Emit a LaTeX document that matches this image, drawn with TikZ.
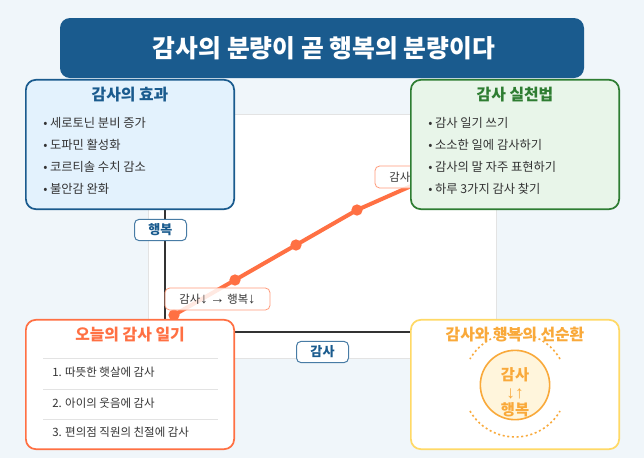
\documentclass[tikz,border=0pt]{standalone}
\usepackage{fontspec}
\usetikzlibrary{calc}
\setmainfont{Noto Sans CJK KR}
\newfontfamily\sym{Liberation Sans}
\newcommand{\arrowtxt}[1]{{\sym\fontsize{11pt}{11pt}\selectfont #1}}
\definecolor{pagebg}{HTML}{F0F6FA}
\definecolor{navy}{HTML}{1A5B8E}
\definecolor{lblue}{HTML}{E3F2FD}
\definecolor{dgreen}{HTML}{2E7D32}
\definecolor{lgreen}{HTML}{E8F5E9}
\definecolor{coral}{HTML}{FF7043}
\definecolor{amber}{HTML}{F9A93A}
\definecolor{sun}{HTML}{FFD966}
\definecolor{lsun}{HTML}{FFF5DC}
\definecolor{ink}{HTML}{333333}
\definecolor{rulec}{HTML}{E3E3E3}
\tikzset{
  x=0.75pt,y=-0.75pt,
  card/.style={rounded corners=7.5pt,line width=1.3pt,minimum width=156.2pt,minimum height=97pt,inner sep=0pt},
  cardhead/.style={font=\bfseries\fontsize{11.9pt}{14pt}\selectfont,inner sep=0pt},
  item/.style={font=\fontsize{9.2pt}{11pt}\selectfont,text=ink,anchor=west,inner sep=0pt},
  diaryitem/.style={font=\fontsize{8.6pt}{10pt}\selectfont,text=ink,anchor=west,inner sep=0pt},
  axislabel/.style={draw=navy!80,fill=white,rounded corners=3.5pt,line width=.75pt,minimum width=39pt,minimum height=16pt,inner sep=0pt,text=navy,font=\bfseries\fontsize{9.8pt}{11pt}\selectfont},
  pointlabel/.style={draw=coral!70,fill=white,fill opacity=.85,text opacity=1,rounded corners=3.5pt,line width=.6pt,minimum width=78.75pt,minimum height=16.5pt,inner sep=0pt,text=ink,font=\fontsize{8.5pt}{10pt}\selectfont},
  dot/.style={circle,fill=coral,inner sep=0pt,minimum size=8.5pt},
}
\begin{document}
\begin{tikzpicture}
\useasboundingbox (0,0) rectangle (644,458);
\fill[pagebg] (0,0) rectangle (644,458);
% chart panel
\node[draw=rulec,fill=white,line width=.75pt,minimum width=261pt,minimum height=183pt,inner sep=0pt] (panel) at (322.5,236) {};
% axes
\coordinate (origin) at (165,332);
\coordinate (ytop) at (165,132);
\coordinate (xend) at (480,332);
\draw[ink,line width=1.5pt] (ytop) -- (origin) -- (xend);
% curve
\node[dot] (p1) at (174,315) {};
\node[dot] (p2) at (235,280) {};
\node[dot] (p3) at (296,245) {};
\node[dot] (p4) at (357,210) {};
\coordinate (p5) at (418,183);
\draw[coral,line width=3pt] (p1.center) -- (p2.center) -- (p3.center) -- (p4.center) -- (p5);
% labels on the chart
\node[axislabel] (yl) at (160.5,230) {행복};
\node[axislabel] (xl) at (322.5,352) {감사};
\node[pointlabel] (lo) at (217.5,299) {감사\arrowtxt{↓} \arrowtxt{→} 행복\arrowtxt{↓}};
\node[pointlabel] (hi) at (427.5,177) {감사\arrowtxt{↑} \arrowtxt{→} 행복\arrowtxt{↑}};
% title
\node[fill=navy,rounded corners=7.5pt,minimum width=393pt,minimum height=45pt,inner sep=0pt,text=white,font=\bfseries\fontsize{18.6pt}{22pt}\selectfont] (title) at (322,48) {\hspace*{3pt}감사의 분량이 곧 행복의 분량이다};
% effects
\node[card,draw=navy,fill=lblue] (effects) at (130,144.5) {};
\node[cardhead,text=navy] (eh) at (130,95) {감사의 효과};
\foreach \n/\y/\t in {e1/122.5/세로토닌 분비 증가,e2/144.5/도파민 활성화,e3/166.5/코르티솔 수치 감소,e4/188.5/불안감 완화}
  \node[item] (\n) at (43,\y) {•\hspace{2pt}\t};
% practice
\node[card,draw=dgreen,fill=lgreen] (practice) at (515,144.5) {};
\node[cardhead,text=dgreen] (ph) at (515,95) {감사 실천법};
\foreach \n/\y/\t in {g1/122.5/감사 일기 쓰기,g2/144.5/소소한 일에 감사하기,g3/166.5/감사의 말 자주 표현하기,g4/188.5/하루 3가지 감사 찾기}
  \node[item] (\n) at (428,\y) {•\hspace{2pt}\t};
% diary
\node[card,draw=coral,fill=white] (diary) at (130,384.5) {};
\node[cardhead,text=coral] (dh) at (130,335) {오늘의 감사 일기};
\coordinate (r1a) at (43,358); \coordinate (r1b) at (218,358);
\coordinate (r2a) at (43,389); \coordinate (r2b) at (218,389);
\coordinate (r3a) at (43,419); \coordinate (r3b) at (218,419);
\draw[rulec,line width=.75pt] (r1a) -- (r1b) (r2a) -- (r2b) (r3a) -- (r3b);
\node[diaryitem] (d1) at (52,372) {1. 따뜻한 햇살에 감사};
\node[diaryitem] (d2) at (52,403) {2. 아이의 웃음에 감사};
\node[diaryitem] (d3) at (52,432) {3. 편의점 직원의 친절에 감사};
% cycle
\node[card,draw=sun,fill=white] (cycle) at (515,384.5) {};
\coordinate (cc) at (515,385);
\draw[amber,line width=1.2pt,dash pattern=on 1.5pt off 2pt] ($(cc)+(30:39pt)$) arc[start angle=30,end angle=150,radius=39pt];
\draw[amber,line width=1.2pt,dash pattern=on 1.5pt off 2pt] ($(cc)+(-150:39pt)$) arc[start angle=-150,end angle=-30,radius=39pt];
\node[cardhead,text=amber] (ch) at (515,335) {감사와 행복의 선순환};
\node[circle,draw=amber,fill=lsun,line width=1.2pt,minimum size=52pt,inner sep=0pt] (hub) at (cc) {};
\node[text=amber,font=\bfseries\fontsize{11.5pt}{13pt}\selectfont,inner sep=0pt] (h1) at (515,375) {감사};
\node[text=amber,font=\sym\fontsize{13pt}{13pt}\selectfont,inner sep=0pt] (h2) at (515,394) {↓↑};
\node[text=amber,font=\bfseries\fontsize{11.5pt}{13pt}\selectfont,inner sep=0pt] (h3) at (515,410) {행복};
\end{tikzpicture}
\end{document}
